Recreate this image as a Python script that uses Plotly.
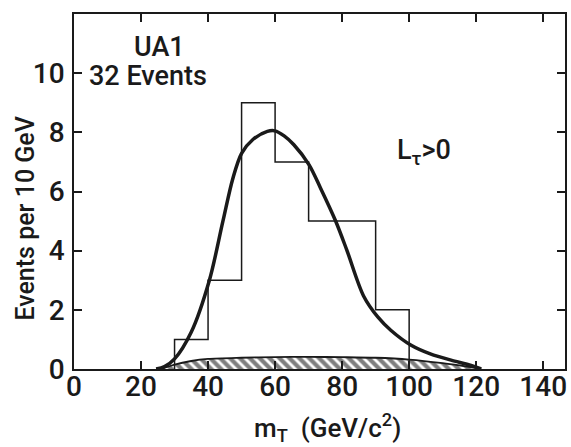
import plotly.graph_objects as go

# ---- data ----
bin_edges = [30, 40, 50, 60, 70, 80, 90, 100]
counts = [1, 3, 9, 7, 5, 5, 2]

curve_x = [24.5, 27, 30, 35, 40.4, 44.4, 47.4, 50, 53.3, 57.7, 59.9, 62.7, 65.6, 70.1,
           73.5, 78, 81.4, 86.4, 90.7, 94.6, 100.6, 106.5, 112.5, 118.5, 121.5]
curve_y = [0, 0.08, 0.34, 1.25, 3.0, 4.98, 6.44, 7.29, 7.75, 8.03, 8.05, 7.88, 7.58, 6.91,
           6.13, 5.02, 4.02, 2.47, 1.75, 1.3, 0.8, 0.5, 0.3, 0.12, 0]

bg_x = [26, 30, 35, 40, 50, 60, 70, 80, 90, 100, 110, 115, 121.5]
bg_y = [0, 0.15, 0.27, 0.34, 0.38, 0.40, 0.41, 0.40, 0.38, 0.32, 0.20, 0.12, 0]

x_ticks = [0, 20, 40, 60, 80, 100, 120, 140]
y_ticks = [0, 2, 4, 6, 8, 10]

# ---- styling ----
FONT = "Roboto, Liberation Sans, Arial, sans-serif"
INK = "#1a1a1a"

# histogram outline as a step line
hx = [bin_edges[0]] + bin_edges[:-1] + [bin_edges[-1], bin_edges[-1]]
hy = [0] + counts + [counts[-1], 0]

fig = go.Figure()
fig.add_trace(go.Scatter(
    x=bg_x, y=bg_y, mode="lines", fill="tozeroy",
    line=dict(color=INK, width=1.8, shape="spline", smoothing=0.8),
    fillpattern=dict(shape="\\", fgcolor="#000000", bgcolor="white", size=7, solidity=0.6),
    fillcolor="white", hoverinfo="skip", showlegend=False))
fig.add_trace(go.Scatter(
    x=hx, y=hy, mode="lines", line=dict(color=INK, width=1.5, shape="hv"),
    showlegend=False))
fig.add_trace(go.Scatter(
    x=curve_x, y=curve_y, mode="lines",
    line=dict(color=INK, width=3.5, shape="spline", smoothing=0.9),
    showlegend=False))

axis_common = dict(
    showline=True, linecolor=INK, linewidth=1.6, mirror="ticks",
    ticks="inside", ticklen=8, tickwidth=1.5, tickcolor=INK,
    showgrid=False, zeroline=False,
    tickfont=dict(family=FONT, size=28, color=INK, weight=500),
)
fig.update_xaxes(range=[0, 146.5], tickvals=x_ticks, ticklabelstandoff=-8, **axis_common)
fig.update_yaxes(range=[0, 12], tickvals=y_ticks, ticklabelstandoff=2, **axis_common)

ann_font = dict(family=FONT, size=27, color=INK, weight=500)


def px_x(px):
    return (px - 73.5) / 494


def px_y(py):
    return (369 - py) / 354.5


common = dict(xref="paper", yref="paper", showarrow=False,
              xanchor="center", yanchor="middle")
fig.update_layout(
    width=571, height=447,
    margin=dict(l=74, r=4, t=14, b=78),
    paper_bgcolor="white", plot_bgcolor="white",
    annotations=[
        dict(text="UA1", x=px_x(160), y=px_y(47), font=ann_font, **common),
        dict(text="32 Events", x=px_x(148), y=px_y(76), font=ann_font, **common),
        dict(text="L<sub>τ</sub>&gt;0", x=px_x(426), y=px_y(152), font=ann_font, **common),
        dict(text="Events per 10 GeV", textangle=-90, x=px_x(25), y=px_y(219),
             font=dict(family=FONT, size=25, color=INK, weight=500), **common),
        dict(text="m<sub>T</sub>  (GeV/c<sup>2</sup>)", x=px_x(329), y=px_y(427),
             font=dict(family=FONT, size=26, color=INK, weight=500), **common),
    ],
)

fig.write_html("out.html")
